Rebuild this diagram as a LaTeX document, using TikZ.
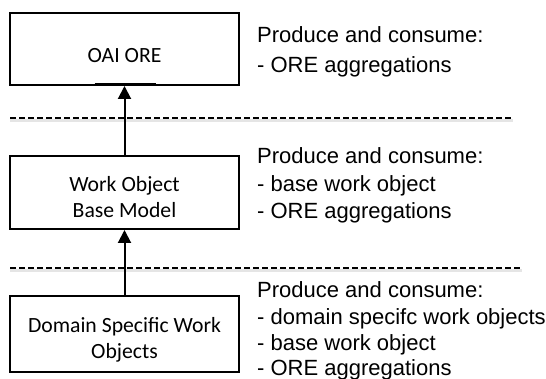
\documentclass[tikz,border=0pt]{standalone}
\usepackage{fontspec}
\setmainfont{Liberation Sans}
\newfontfamily\boxfont{Carlito}
\usetikzlibrary{arrows.meta}
\tikzset{
  layerbox/.style={draw=black, line width=2pt, minimum width=229pt, minimum height=#1, inner sep=0pt},
  boxtext/.style={anchor=base, inner sep=0pt, font=\boxfont\fontsize{21.7}{26.5}\selectfont},
  desc/.style={anchor=base west, inner sep=0pt, font=\fontsize{22}{26}\selectfont},
  uparrow/.style={line width=2pt, -{Triangle[length=13pt, width=13pt]}},
  sep/.style={dash pattern=on 6pt off 3pt, line width=1.6pt},
  sepshadow/.style={line width=3pt, black!10},
}
\begin{document}
\begin{tikzpicture}[x=1pt, y=-1pt]
\useasboundingbox (0,0) rectangle (546,379);
\fill[white] (0,0) rectangle (546,379);
% boxes
\node[layerbox=72pt] (ore) at (124.5,49) {};
\node[layerbox=73pt] (base) at (124.5,192.5) {};
\node[layerbox=76pt] (dom) at (124.5,334) {};
\node[boxtext] (oret) at (124.5,63) {OAI ORE};
\node[boxtext] (baset1) at (124.5,191.5) {Work Object};
\node[boxtext] (baset2) at (124.5,218) {Base Model};
\node[boxtext] (domt1) at (124.5,332) {Domain Specific Work};
\node[boxtext] (domt2) at (124.5,358) {Objects};
\draw[line width=3pt] ([xshift=-30pt,yshift=1pt]ore.south) -- ([xshift=31pt,yshift=1pt]ore.south);
% separators
\coordinate (s1a) at (10,118);
\coordinate (s1b) at (513,118);
\coordinate (s2a) at (10,268);
\coordinate (s2b) at (522,268);
\draw[sepshadow] ([yshift=-2.5pt]s1a) -- ([yshift=-2.5pt]s1b);
\draw[sepshadow] ([yshift=-2.5pt]s2a) -- ([yshift=-2.5pt]s2b);
\draw[sep] (s1a) -- (s1b);
\draw[sep] (s2a) -- (s2b);
% arrows
\draw[uparrow] (base.north) -- (ore.south);
\draw[uparrow] (dom.north) -- (base.south);
% descriptions
\node[desc] (d1a) at (257,42.3) {Produce and consume:};
\node[desc] (d1b) at (257,72.7) {- ORE aggregations};
\node[desc] (d2a) at (257,164) {Produce and consume:};
\node[desc] (d2b) at (257,191.5) {- base work object};
\node[desc] (d2c) at (257,219) {- ORE aggregations};
\node[desc] (d3a) at (257,298) {Produce and consume:};
\node[desc] (d3b) at (257,324.5) {- domain specifc work objects};
\node[desc] (d3c) at (257,350) {- base work object};
\node[desc] (d3d) at (257,375.5) {- ORE aggregations};
\end{tikzpicture}
\end{document}
